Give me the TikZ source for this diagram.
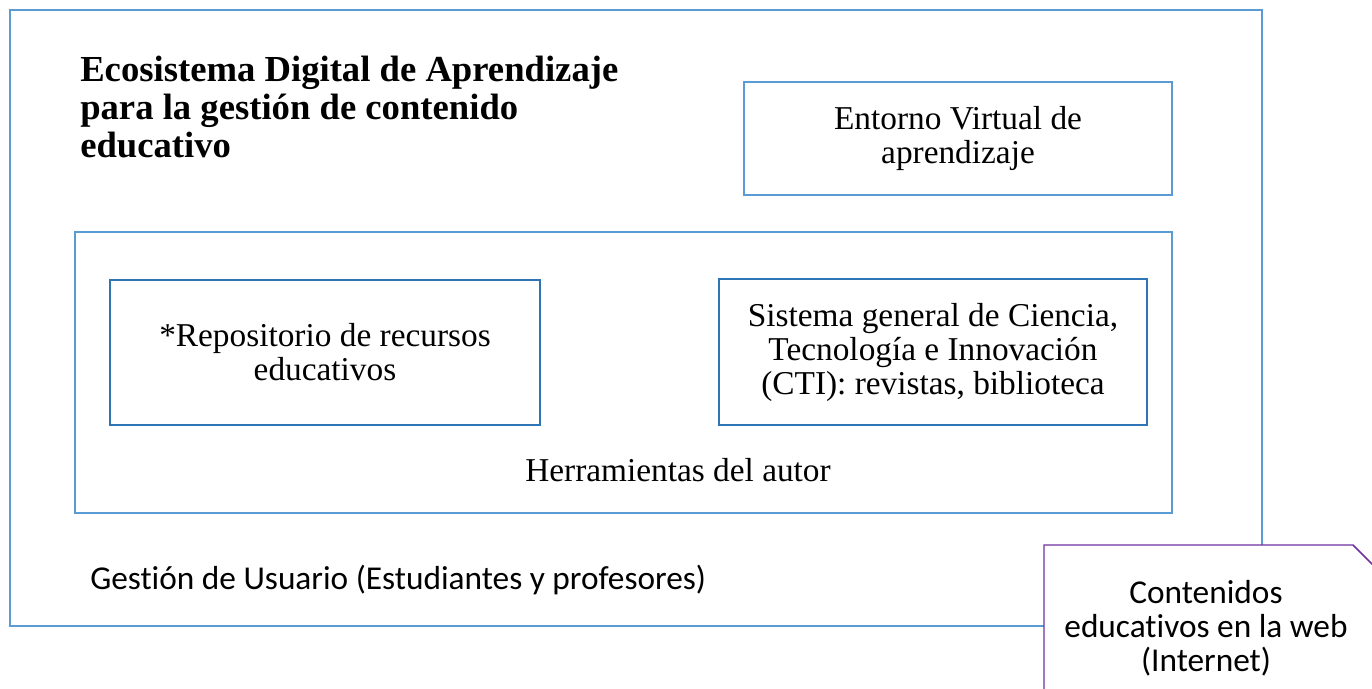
\documentclass[tikz,border=0pt]{standalone}
\usepackage{fontspec}
\setmainfont{Liberation Serif}
\newfontfamily\calibri[Ligatures=NoCommon]{Carlito}
\definecolor{paleblue}{HTML}{5B9BD5}
\definecolor{deepblue}{HTML}{2E75B6}
\definecolor{webpurple}{HTML}{7030A0}
\newcommand{\boxfont}{\fontsize{25}{25.5}\selectfont}

\begin{document}
\begin{tikzpicture}[x=0.75pt, y=-0.75pt,
    outline/.style={draw=paleblue, line width=1.1pt, inner sep=0pt},
    subbox/.style={draw=deepblue, line width=1.1pt, inner sep=0pt,
      align=center, font=\boxfont},
    label/.style={inner sep=0pt, align=center, font=\boxfont}]
    \useasboundingbox (0,0) rectangle (1372,689);
    \node[outline, minimum width=939pt, minimum height=462pt] (eco) at (636,318) {};
    \node[outline, align=center, font=\boxfont,
      minimum width=321pt, minimum height=84.75pt] (eva) at (958,138.5)
      {Entorno Virtual de\\aprendizaje};
    \node[outline, minimum width=822.75pt, minimum height=210.75pt] (tools) at (623.5,372.5) {};
    \node[subbox, minimum width=322.5pt, minimum height=108.75pt] (repo) at (325,352.5)
      {*Repositorio de recursos\\educativos};
    \node[subbox, minimum width=321pt, minimum height=109.5pt] (cti) at (933,352)
      {Sistema general de Ciencia,\\Tecnología e Innovación\\(CTI): revistas, biblioteca};
    \node[label] (author) at (678,470) {Herramientas del autor};
    \node[inner sep=0pt, anchor=west, align=left,
      font=\fontsize{27.5}{28.5}\selectfont\bfseries] (title) at (80,107)
      {Ecosistema Digital de Aprendizaje\\para la gestión de contenido\\educativo};
    \node[inner sep=0pt, anchor=west, font=\calibri\fontsize{25}{25}\selectfont] (users) at (90,580)
      {Gestión de Usuario (Estudiantes y profesores)};
    % web content, cut off by the page edge
    \draw[webpurple, line width=1.1pt, fill=white]
      (1044,720) -- (1044,545) -- (1353,545) -- (1420,612);
    \node[inner sep=0pt, align=center, font=\calibri\fontsize{25}{25.5}\selectfont] (web) at (1206,628)
      {Contenidos\\educativos en la web\\(Internet)};
\end{tikzpicture}
\end{document}
